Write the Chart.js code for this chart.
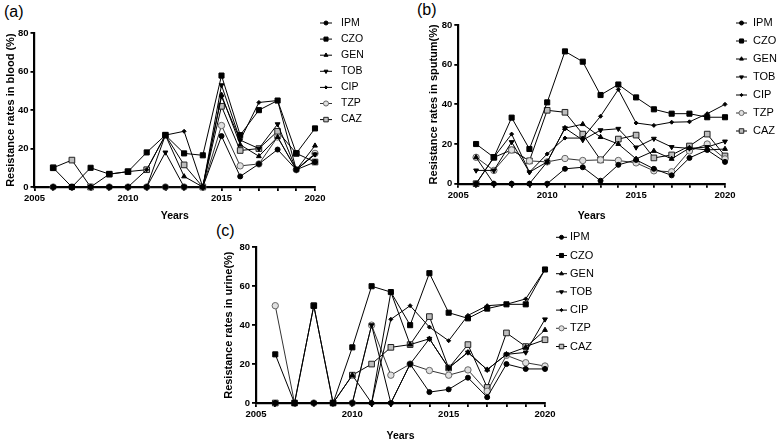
<!DOCTYPE html>
<html>
<head>
<meta charset="utf-8">
<script src="https://cdn.jsdelivr.net/npm/chart.js@4.4.1/dist/chart.umd.min.js"></script>
<style>
  html, body { margin: 0; padding: 0; background: #fff; }
  body { width: 780px; height: 442px; position: relative; overflow: hidden; font-family: "Liberation Sans", Arial, sans-serif; }
  canvas { position: absolute; }
  .tag { position: absolute; font-size: 16px; color: #000; line-height: 1; }
</style>
</head>
<body>
<div class="tag" style="left:4px;top:4px">(a)</div>
<div class="tag" style="left:417px;top:2px">(b)</div>
<div class="tag" style="left:216px;top:223px">(c)</div>
<canvas id="chartA" style="left:0px;top:0px"></canvas>
<canvas id="chartB" style="left:390px;top:0px"></canvas>
<canvas id="chartC" style="left:200px;top:220px"></canvas>
<script>
const years = [2006, 2007, 2008, 2009, 2010, 2011, 2012, 2013, 2014, 2015, 2016, 2017, 2018, 2019, 2020];
const drugs = ['IPM', 'CZO', 'GEN', 'TOB', 'CIP', 'TZP', 'CAZ'];
const yearLabels = [2005, 2010, 2015, 2020];
const rateTicks = [0, 20, 40, 60, 80];

// (a) blood
const bloodIPM = [0, 0, 0, 0, 0, 0, 0, 0, 0, 26.5, 5.5, 12, 19.5, 9, 13];
const bloodCZO = [10, 0, 10, 6.7, 8, 18, 27, 17.5, 16.5, 58, 27, 40, 45, 17.5, 30.5];
const bloodGEN = [0, 0, 0, 0, 0, 0, 27, 5.5, 0, 48, 22, 16, 26, 9, 21.5];
const bloodTOB = [0, 0, 0, 0, 0, 0, 18, 0, 0, 53, 24.4, 20, 32.7, 9, 17];
const bloodCIP = [0, 0, 0, 0, 0, 9, 27, 29, 0, 47, 24.4, 44, 45, 9, 17];
const bloodTZP = [0, 0, 0, 0, 0, 0, 0, 0, 0, 32, 11, 12, 26, 9, 17.5];
const bloodCAZ = [10, 14, 0, 6.7, 8, 9, 27, 11.5, 0, 42, 19, 20, 29, 17.5, 13];

// (b) sputum
const sputumIPM = [0, 0, 0, 0, 0, 7.5, 8.3, 1.5, 9.5, 12, 7.5, 4.2, 13, 17, 11];
const sputumCZO = [20, 13.3, 33.3, 17.5, 41, 66.7, 61.5, 44.7, 50, 43.5, 37.5, 35.3, 35.3, 33.5, 33.5];
const sputumGEN = [13.3, 0, 0, 0, 11, 28, 30, 23.5, 20, 12.5, 16.5, 12.5, 18, 17, 17.5];
const sputumTOB = [6.7, 6.7, 21, 5.8, 11, 28, 22, 27, 27.7, 18.3, 22.7, 18.5, 17.8, 18.5, 21.3];
const sputumCIP = [0, 13.3, 25, 5.8, 15, 23, 23, 34, 47.5, 30.6, 29.4, 31, 31.2, 35.3, 40];
const sputumTZP = [13.3, 6.7, 17, 11.5, 11, 12.7, 11.7, 12, 11.7, 10.5, 6.5, 6, 16.5, 20, 12.5];
const sputumCAZ = [0, 13.3, 17, 11.5, 37, 36, 25, 12, 22.5, 24.5, 13, 14.5, 19, 25, 14];

// (c) urine
const urineIPM = [0, 0, 0, 0, 0, 0, 0, 20, 5.6, 7, 13, 3, 20, 17.5, 17.5];
const urineCZO = [25, 0, 50, 0, 28.6, 60, 57, 40, 66.7, 46.4, 43.5, 48.5, 50.7, 50.7, 68.6];
const urineGEN = [0, 0, 0, 0, 14.3, 0, 57, 30, 33, 18, 26, 17.1, 25, 28.6, 37.5];
const urineTOB = [0, 0, 0, 0, 0, 40, 0, 20, 33, 18, 26, 17.1, 25, 26, 43];
const urineCIP = [0, 0, 0, 0, 0, 0, 43, 50, 39, 32, 45, 50, 50.7, 53.5, 68.6];
const urineTZP = [50, 0, 0, 0, 0, 40, 14.3, 20, 16.7, 14.3, 17, 6, 24.5, 20.7, 19];
const urineCAZ = [0, 0, 50, 0, 14.3, 20, 28.6, 30, 44.4, 18, 30, 8, 36, 29, 32.5];

// marker look for each drug
const marks = {
  IPM: { pointStyle: 'circle', radius: 2.5, bg: '#000', edge: '#000', line: '#000' },
  CZO: { pointStyle: 'rect', radius: 3.6, bg: '#000', edge: '#000', line: '#000' },
  GEN: { pointStyle: 'triangle', radius: 2.8, bg: '#000', edge: '#000', line: '#000' },
  TOB: { pointStyle: 'triangle', rotation: 180, radius: 2.8, bg: '#000', edge: '#000', line: '#000' },
  CIP: { pointStyle: 'rectRot', radius: 2, bg: '#000', edge: '#000', line: '#000' },
  TZP: { pointStyle: 'circle', radius: 3.2, bg: '#e0e0e0', edge: '#666', line: '#333' },
  CAZ: { pointStyle: 'rect', radius: 4, bg: '#bdbdbd', edge: '#222', line: '#000' }
};

const lineLegend = {
  id: 'lineLegend',
  afterDraw(chart, args, opts) {
    const ctx = chart.ctx;
    ctx.save();
    chart.data.datasets.forEach((ds, i) => {
      const y = opts.y0 + i * opts.step;
      ctx.strokeStyle = ds.borderColor;
      ctx.lineWidth = 1;
      ctx.beginPath();
      ctx.moveTo(opts.x, y);
      ctx.lineTo(opts.x + opts.len, y);
      ctx.stroke();
      ctx.fillStyle = ds.pointBackgroundColor;
      ctx.strokeStyle = ds.pointBorderColor;
      Chart.helpers.drawPoint(ctx, {
        pointStyle: ds.pointStyle,
        radius: ds.pointRadius * 0.8,
        rotation: ds.pointRotation || 0,
        borderWidth: 1
      }, opts.x + opts.len / 2, y);
      ctx.fillStyle = '#000';
      ctx.font = opts.size + 'px "Liberation Sans", Arial, sans-serif';
      ctx.textBaseline = 'middle';
      ctx.textAlign = 'left';
      ctx.fillText(ds.label, opts.textX, y);
    });
    ctx.restore();
  }
};

function buildSets(rows) {
  return rows.map((vals, i) => {
    const m = marks[drugs[i]];
    return {
      label: drugs[i],
      data: years.map((yr, k) => ({ x: yr, y: vals[k] })),
      borderColor: m.line,
      borderWidth: 1,
      pointStyle: m.pointStyle,
      pointRotation: m.rotation || 0,
      pointRadius: m.radius,
      pointBackgroundColor: m.bg,
      pointBorderColor: m.edge,
      pointBorderWidth: 1,
      tension: 0,
      clip: false
    };
  });
}

function makeChart(id, w, h, rows, yTitle, box, legend) {
  const cv = document.getElementById(id);
  cv.width = w; cv.height = h;
  cv.style.width = w + 'px'; cv.style.height = h + 'px';
  return new Chart(cv, {
    type: 'line',
    data: { datasets: buildSets(rows) },
    options: {
      responsive: false,
      animation: false,
      devicePixelRatio: 1,
      layout: { padding: { left: box.padL, top: box.top, right: w - box.right, bottom: 0 } },
      plugins: {
        legend: { display: false },
        tooltip: { enabled: false },
        lineLegend: legend
      },
      scales: {
        x: {
          type: 'linear',
          min: 2005, max: 2020,
          afterFit: s => { s.height = h - box.bottom; },
          border: { display: true, color: '#000', width: 2.2 },
          grid: { drawOnChartArea: false, drawTicks: true, tickLength: 4, color: '#000', lineWidth: 1.8 },
          ticks: {
            stepSize: 1, autoSkip: false, maxRotation: 0, padding: 2, color: '#000',
            font: { family: '"Liberation Sans", Arial, sans-serif', size: 9.5, weight: 'bold' },
            callback: v => yearLabels.includes(v) ? String(v) : ''
          },
          title: {
            display: true, text: 'Years', color: '#000', padding: { top: 0, bottom: 0 },
            font: { family: '"Liberation Sans", Arial, sans-serif', size: 10.5, weight: 'bold' }
          }
        },
        y: {
          min: 0, max: 80,
          afterFit: s => { s.width = box.left - box.padL; },
          afterBuildTicks: s => { s.ticks = rateTicks.map(v => ({ value: v })); },
          border: { display: true, color: '#000', width: 2.2 },
          grid: { drawOnChartArea: false, drawTicks: true, tickLength: 4, color: '#000', lineWidth: 1.8 },
          ticks: {
            padding: 2, color: '#000',
            font: { family: '"Liberation Sans", Arial, sans-serif', size: 9.5, weight: 'bold' }
          },
          title: {
            display: true, text: yTitle, color: '#000', padding: { top: 4, bottom: 0 },
            font: { family: '"Liberation Sans", Arial, sans-serif', size: 11, weight: 'bold' }
          }
        }
      }
    },
    plugins: [lineLegend]
  });
}

makeChart('chartA', 390, 222,
  [bloodIPM, bloodCZO, bloodGEN, bloodTOB, bloodCIP, bloodTZP, bloodCAZ],
  'Resistance rates in blood (%)',
  { padL: 0, left: 34.5, right: 315, top: 33.3, bottom: 187 },
  { x: 320, len: 12, textX: 341, y0: 23, step: 16.1, size: 10.5 });

makeChart('chartB', 390, 222,
  [sputumIPM, sputumCZO, sputumGEN, sputumTOB, sputumCIP, sputumTZP, sputumCAZ],
  'Resistance rates in sputum(%)',
  { padL: 33, left: 68.3, right: 335, top: 25, bottom: 183.7 },
  { x: 346, len: 11, textX: 363, y0: 23, step: 18, size: 11 });

makeChart('chartC', 420, 222,
  [urineIPM, urineCZO, urineGEN, urineTOB, urineCIP, urineTZP, urineCAZ],
  'Resistance rates in urine(%)',
  { padL: 18, left: 56, right: 345, top: 27.3, bottom: 183 },
  { x: 356, len: 11, textX: 370, y0: 17.3, step: 18.2, size: 11 });
</script>
</body>
</html>
